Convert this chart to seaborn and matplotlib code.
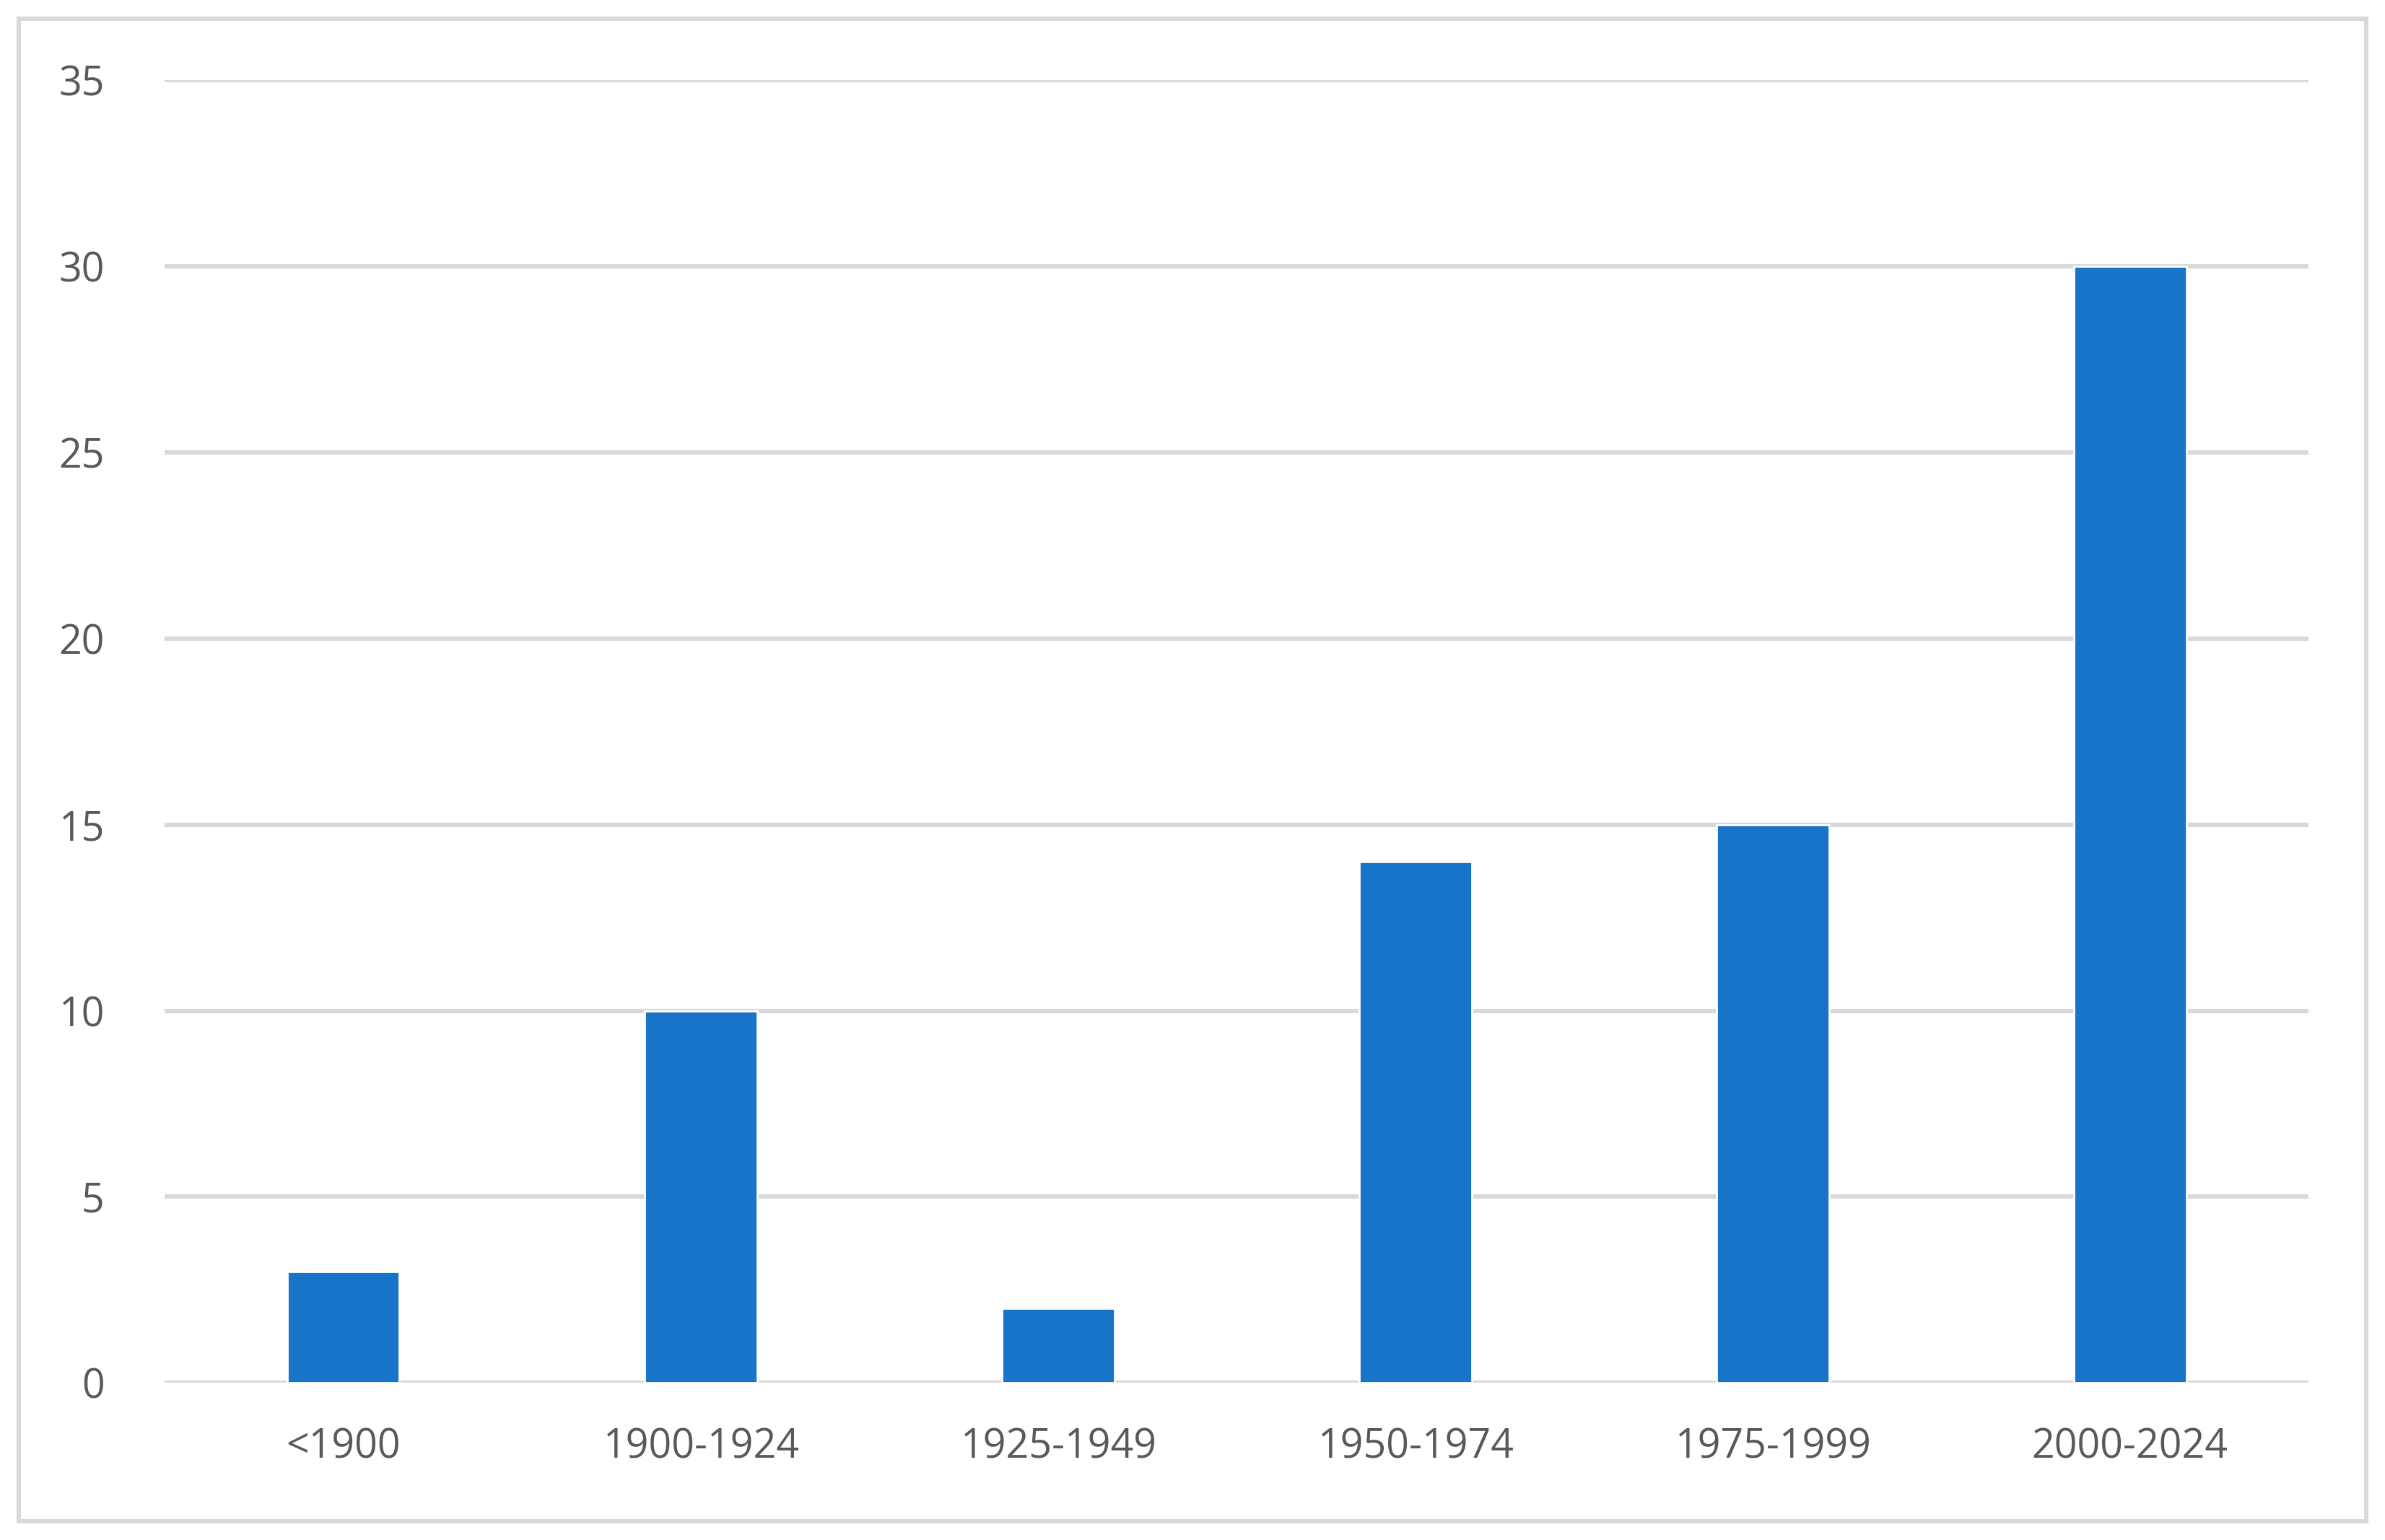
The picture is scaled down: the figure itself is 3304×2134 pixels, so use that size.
import matplotlib
matplotlib.use("Agg")
import matplotlib.pyplot as plt
import seaborn as sns
import pandas as pd
from matplotlib.patches import Rectangle

categories = ["<1900", "1900-1924", "1925-1949", "1950-1974", "1975-1999", "2000-2024"]
values = [3, 10, 2, 14, 15, 30]
yticks = [0, 5, 10, 15, 20, 25, 30, 35]

sns.set_theme(style="white")
plt.rcParams['font.family'] = ['Open Sans', 'DejaVu Sans']

fig = plt.figure(figsize=(16.52, 10.67), dpi=200)
ax = fig.add_axes([0.069, 0.102, 0.899, 0.846])
df = pd.DataFrame({"cat": categories, "val": values})
sns.barplot(data=df, x="cat", y="val", color="#1874C8", width=0.315, saturation=1, ax=ax)
ax.set_ylim(0, 35)
ax.set_yticks(yticks)
ax.set_xlim(-0.5, 5.5)
for y in yticks:
    ax.axhline(y, color="#D9D9D9", lw=2.2, zorder=0)
ax.set_axisbelow(True)
for s in ax.spines.values():
    s.set_visible(False)
ax.set_xlabel("")
ax.set_ylabel("")
ax.tick_params(axis="both", length=0, labelsize=20, labelcolor="#595959")
ax.tick_params(axis="x", pad=22)
ax.tick_params(axis="y", pad=30)
fig.patches.append(Rectangle((0.008, 0.012), 0.984, 0.976, transform=fig.transFigure,
                             fill=False, edgecolor="#D9D9D9", lw=2.2))
fig.savefig("out.png", dpi=200)
